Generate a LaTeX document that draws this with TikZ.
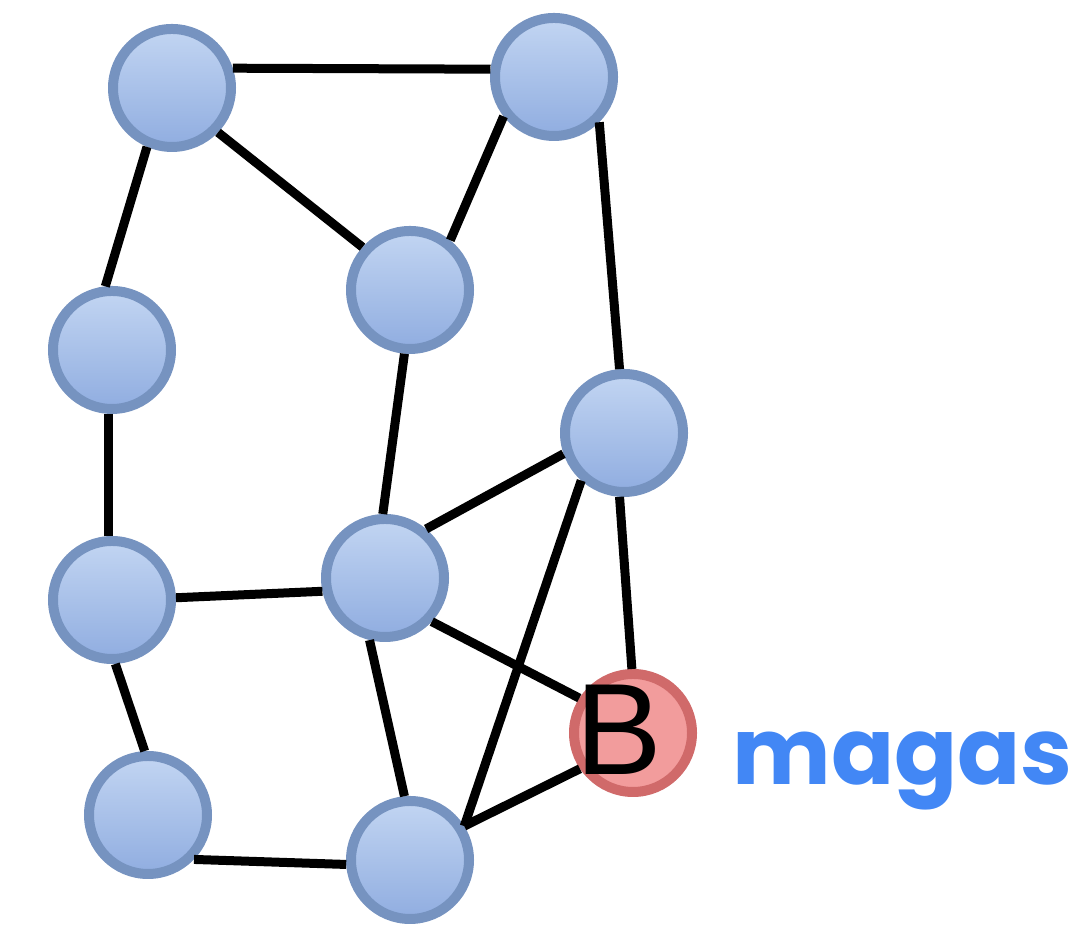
\documentclass[tikz,border=0pt]{standalone}
\usepackage{fontspec}
\setmainfont{Liberation Sans}
\newfontfamily\labelfont{Poppins}
\usetikzlibrary{calc}
\definecolor{ringblue}{HTML}{7693C0}
\definecolor{topblue}{HTML}{C2D5F2}
\definecolor{botblue}{HTML}{90ADE0}
\definecolor{ringred}{HTML}{D06A6A}
\definecolor{fillred}{HTML}{F29C9C}
\definecolor{textblue}{HTML}{4287F5}

\begin{document}
\begin{tikzpicture}[thick,
  main node/.style={circle,draw=ringblue,line width=0.1cm,minimum size=1.18cm,
    top color=topblue,bottom color=botblue,inner sep=0pt},
  goal node/.style={main node,draw=ringred,top color=fillred,bottom color=fillred}]
  \useasboundingbox (0,0) rectangle (10.86,9.28);

  \node[main node] (1) at (1.72,8.40) {};
  \node[main node] (2) at (5.54,8.51) {};
  \node[main node] (3) at (4.10,6.38) {};
  \node[main node] (4) at (1.12,5.78) {};
  \node[main node] (5) at (6.24,4.95) {};
  \node[main node] (6) at (1.12,3.28) {};
  \node[main node] (7) at (3.85,3.50) {};
  \node[goal node] (B) at (6.33,1.95) {};
  \node[main node] (9) at (1.48,1.13) {};
  \node[main node] (10) at (4.10,0.68) {};

  % edges leave the circles off-centre, as in the sketch
  \path[draw,line width=0.09cm]
    (1.18) edge (2.173)
    (1.-44) edge (3.138)
    (1.-113) edge (4.96)
    (2.-142) edge (3.51)
    (2.-45) edge (5.94)
    (4.-93) edge (6.93)
    (3.-95) edge (7.92)
    (7.50) edge (5.-161)
    (6.2) edge (7.-168)
    (7.-43) edge (B.147)
    (7.-104) edge (10.95)
    (5.-132) edge (10.32)
    (5.-94) edge (B.91)
    (6.-87) edge (9.93)
    (9.-44) edge (10.-176)
    (10.32) edge (B.-146);

  \node[font=\fontsize{37}{37}\selectfont,inner sep=0pt] (Bl) at (6.19,1.98) {B};
  \node[font=\labelfont\bfseries\fontsize{26.5}{26.5}\selectfont,text=textblue,
    anchor=base west,inner sep=0pt] (magas) at (7.31,1.43) {magas};
\end{tikzpicture}
\end{document}
